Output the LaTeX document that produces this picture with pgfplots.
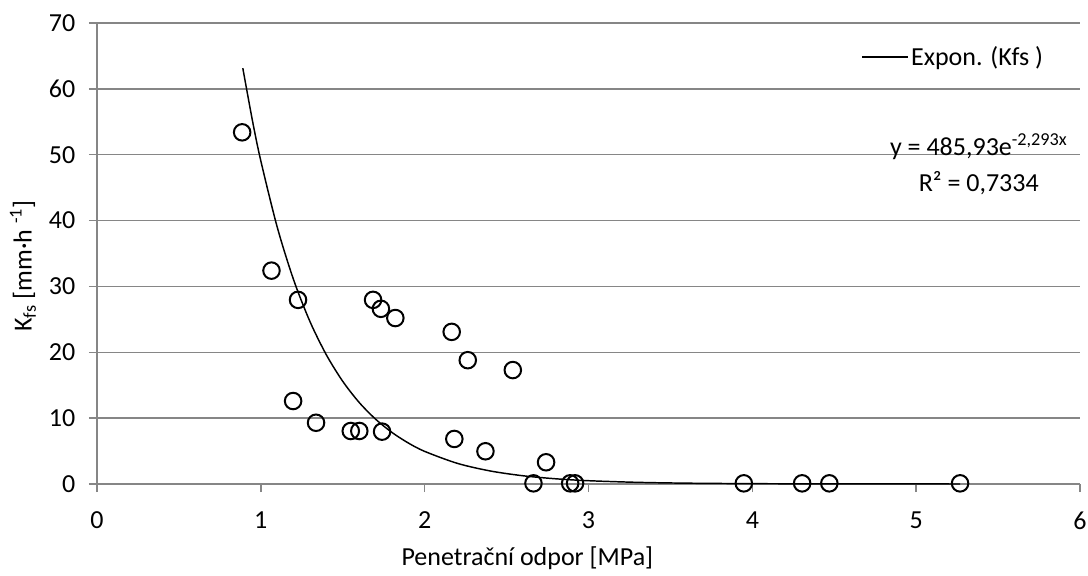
\documentclass[border=0pt]{standalone}
\usepackage{fontspec}
\setmainfont{Carlito}
\usepackage{pgfplots}
\pgfplotsset{compat=1.18}
\definecolor{gridgray}{RGB}{134,134,134}
\newcommand{\cf}{\fontsize{19.5}{23.4}\selectfont}
\begin{document}
\begin{tikzpicture}
\begin{axis}[
  scale only axis, width=737.25pt, height=345.75pt,
  xmin=0, xmax=6, ymin=0, ymax=70,
  xtick={0,1,2,3,4,5,6}, ytick={0,10,20,30,40,50,60,70},
  axis lines=left, axis line style={-, gridgray, line width=1.1pt},
  ymajorgrids, major grid style={gridgray, line width=1.1pt},
  tick style={gridgray, line width=1.1pt},
  tick align=outside, major tick length=6pt,
  font=\cf,
  tick label style={font=\cf, /pgf/number format/assume math mode=true},
  xticklabel style={yshift=-11.5pt},
  yticklabel style={xshift=-6.75pt},
  xlabel={Penetrační odpor [MPa]},
  ylabel={K\textsubscript{fs} [mm·h \textsuperscript{-1}]},
  xlabel style={at={(axis description cs:0.305,0)}, anchor=west, yshift=-55.5pt},
  ylabel style={at={(axis description cs:0,0.473)}, anchor=center, yshift=55.5pt},
  legend style={at={(rel axis cs:0.9695,0.926)}, anchor=east, draw=none, fill=none, font=\cf},
  legend cell align=left,
  legend image code/.code={\draw[#1] (0pt,0pt) -- (34pt,0pt);},
  clip=false,
]
\addplot[black, line width=1.1pt, smooth] table {
x y
0.89 63.14
0.95 55.02
1.0 49.06
1.1 39.01
1.2 31.01
1.3 24.66
1.4 19.61
1.5 15.59
1.6 12.39
1.7 9.855
1.8 7.836
1.9 6.230
2.0 4.953
2.2 3.131
2.4 1.979
2.6 1.251
2.8 0.791
3.0 0.500
3.3 0.251
3.6 0.126
4.0 0.0505
4.5 0.0161
5.0 0.0051
5.268 0.0028
};
\addlegendentry{Expon. (Kfs )}
\addplot[only marks, mark=o, mark size=6.2pt, mark options={black, line width=1.5pt, fill=none}, forget plot] table {
x y
0.886 53.4
1.065 32.4
1.227 27.96
1.197 12.6
1.337 9.3
1.549 8.05
1.601 8.05
1.740 7.95
1.685 27.96
1.733 26.6
1.821 25.2
2.165 23.1
2.263 18.8
2.181 6.84
2.538 17.3
2.371 4.97
2.741 3.3
2.664 0.1
2.888 0.1
2.918 0.1
3.948 0.1
4.304 0.1
4.470 0.1
5.268 0.1
};
\node[font=\cf, anchor=center] at (rel axis cs:0.897,0.731) {y = 485,93e\textsuperscript{-2,293x}};
\node[font=\cf, anchor=center] at (rel axis cs:0.897,0.653) {R² = 0,7334};
\end{axis}
\path (current axis.south west) ++(-72.75pt,-68.25pt) coordinate (bl);
\path (current axis.north east) ++(6pt,17.25pt) coordinate (tr);
\pgfresetboundingbox
\useasboundingbox (bl) rectangle (tr);
\end{tikzpicture}
\end{document}
